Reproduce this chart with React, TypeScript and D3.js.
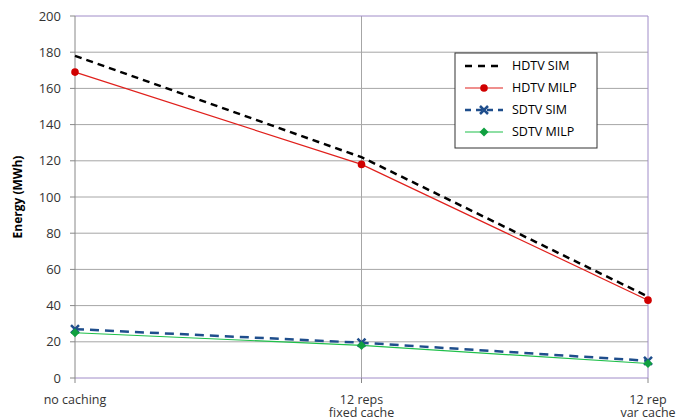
import React from "react";
import * as d3 from "d3";

const categories = ["no caching", "12 reps|fixed cache", "12 rep|var cache"];
const hdtvSim = [178, 122, 45];
const hdtvMilp = [169, 118, 43];
const sdtvSim = [27, 19.5, 9.5];
const sdtvMilp = [25, 18, 8];
const yTicks = [0, 20, 40, 60, 80, 100, 120, 140, 160, 180, 200];

const W = 678, H = 420;
const L = 75, R = 648, T = 16, B = 378;
const font = "'Open Sans', sans-serif";

export default function App() {
  const x = d3.scalePoint<number>().domain([0, 1, 2]).range([L, R]);
  const y = d3.scaleLinear().domain([0, 200]).range([B, T]);
  const line = d3.line<number>().x((_, i) => x(i)!).y((d) => y(d));

  const series = [
    { name: "HDTV SIM", data: hdtvSim, color: "#000000", dash: "7,5", width: 2.5, marker: "none" },
    { name: "HDTV  MILP", data: hdtvMilp, color: "#e0201c", dash: "", width: 1.2, marker: "circle" },
    { name: "SDTV SIM", data: sdtvSim, color: "#1f4e8c", dash: "9,6", width: 2.5, marker: "x" },
    { name: "SDTV MILP", data: sdtvMilp, color: "#1fc04a", dash: "", width: 1.2, marker: "diamond" },
  ];

  const marker = (m: string, cx: number, cy: number, color: string, key: string) => {
    if (m === "circle") return <circle key={key} cx={cx} cy={cy} r={3.8} fill="#d00000" />;
    if (m === "diamond")
      return <path key={key} d={`M${cx},${cy - 4.5}L${cx + 4.5},${cy}L${cx},${cy + 4.5}L${cx - 4.5},${cy}Z`} fill="#10a040" />;
    if (m === "x")
      return (
        <path key={key} d={`M${cx - 4},${cy - 4}L${cx + 4},${cy + 4}M${cx - 4},${cy + 4}L${cx + 4},${cy - 4}`} stroke={color} strokeWidth={2.5} />
      );
    return null;
  };

  const legendY = [66, 88, 110, 132];

  return (
    <svg width={W} height={H} style={{ position: "absolute", left: 0, top: 0, background: "#fff" }}>
      {yTicks.map((t) => (
        <g key={t}>
          {t > 0 && t < 200 && <line x1={L} x2={R} y1={y(t)} y2={y(t)} stroke="#a6a6a6" strokeWidth={1} />}
          <line x1={L - 5} x2={L} y1={y(t)} y2={y(t)} stroke="#888" />
          <text x={L - 14} y={y(t)} dy="0.35em" textAnchor="end" fontFamily={font} fontSize={13} fill="#333">{t}</text>
        </g>
      ))}
      <line x1={x(1)} x2={x(1)} y1={T} y2={B} stroke="#a6a6a6" />
      {/* plot border */}
      <line x1={L} x2={R} y1={T} y2={T} stroke="#a08cc8" />
      <line x1={R} x2={R} y1={T} y2={B} stroke="#a08cc8" />
      <line x1={L} x2={R} y1={B} y2={B} stroke="#a08cc8" />
      <line x1={L} x2={L} y1={T} y2={B} stroke="#888" />
      {categories.map((c, i) => (
        <g key={c}>
          <line x1={x(i)} x2={x(i)} y1={B} y2={B + 5} stroke="#888" />
          {c.split("|").map((s, j) => (
            <text key={j} x={x(i)} y={B + 26 + j * 13} textAnchor="middle" fontFamily={font} fontSize={12.5} fill="#333">{s}</text>
          ))}
        </g>
      ))}
      <text transform={`translate(22,${(T + B) / 2}) rotate(-90)`} textAnchor="middle" fontFamily={font} fontSize={12} fontWeight="bold" fill="#000">Energy (MWh)</text>

      {series.map((s) => (
        <g key={s.name}>
          <path d={line(s.data)!} fill="none" stroke={s.color} strokeWidth={s.width} strokeDasharray={s.dash} />
          {s.data.map((d, i) => marker(s.marker, x(i)!, y(d), s.color, s.name + i))}
        </g>
      ))}

      <rect x={455} y={53} width={142} height={95} fill="#fff" stroke="#333" />
      {series.map((s, i) => (
        <g key={"lg" + s.name}>
          <line x1={465} x2={503} y1={legendY[i]} y2={legendY[i]} stroke={s.color} strokeWidth={s.width} strokeDasharray={s.dash === "" ? "" : s.dash === "7,5" ? "7,6" : "6,5"} />
          {marker(s.marker, 484, legendY[i], s.color, "lm" + i)}
          <text x={512} y={legendY[i]} dy="0.35em" fontFamily={font} fontSize={12.5} fill="#000">{s.name}</text>
        </g>
      ))}
    </svg>
  );
}
